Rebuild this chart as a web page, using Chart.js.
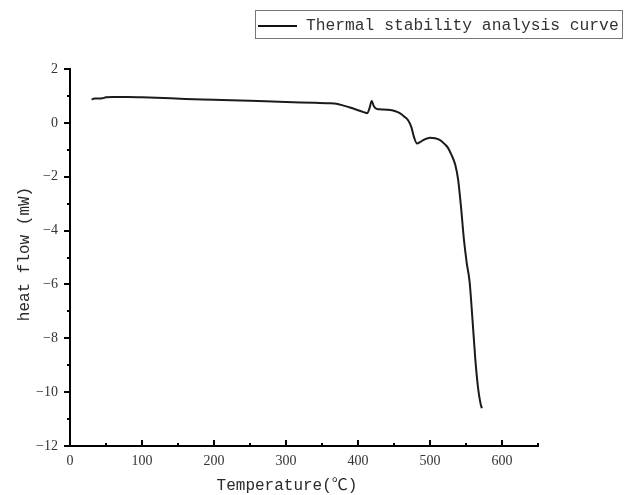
<!DOCTYPE html>
<html>
<head>
<meta charset="utf-8">
<script src="https://cdn.jsdelivr.net/npm/chart.js@4.4.0/dist/chart.umd.min.js"></script>
<style>
  html, body { margin: 0; padding: 0; background: #fff; }
  #wrap { width: 633px; height: 495px; }
</style>
</head>
<body>
<div id="wrap"><canvas id="chart" width="633" height="495"></canvas></div>
<script>
// Data
const temperature = [30, 34, 40, 45, 50, 60, 80, 100, 130, 160, 200, 250, 300, 340, 360, 370, 380, 390, 400, 408, 413, 416, 419, 422, 426, 432, 440, 447, 453, 458, 464, 470, 474, 478, 482, 486, 492, 500, 507, 514, 520, 525, 530, 535, 539, 543, 547, 551, 555, 559, 563, 567, 570, 572];
const heatFlow = [0.87, 0.90, 0.90, 0.91, 0.95, 0.96, 0.96, 0.95, 0.92, 0.89, 0.86, 0.82, 0.77, 0.75, 0.73, 0.71, 0.64, 0.56, 0.47, 0.40, 0.36, 0.55, 0.81, 0.62, 0.52, 0.50, 0.49, 0.47, 0.42, 0.36, 0.24, 0.08, -0.15, -0.55, -0.77, -0.72, -0.62, -0.55, -0.57, -0.64, -0.78, -0.93, -1.2, -1.55, -2.1, -3.1, -4.3, -5.2, -5.9, -7.3, -8.8, -9.9, -10.4, -10.6];

const seriesLabel = "Thermal stability analysis curve";
const xTitle = "Temperature(℃)";
const yTitle = "heat flow (mW)";

// Axis ticks
const xMajorTicks = [0, 100, 200, 300, 400, 500, 600];
const xMinorTicks = [50, 150, 250, 350, 450, 550, 650];
const yMajorTicks = [-12, -10, -8, -6, -4, -2, 0, 2];
const yMinorTicks = [-11, -9, -7, -5, -3, -1, 1];

const monoFont = "'Liberation Mono', 'Noto Sans CJK SC', monospace";
const serifFont = "'Liberation Serif', serif";

// Ticks (x inward, y outward), axis titles and the boxed legend
const decorPlugin = {
  id: "decor",
  afterDraw(chart) {
    const ctx = chart.ctx;
    const xs = chart.scales.x;
    const ys = chart.scales.y;
    const area = chart.chartArea;
    ctx.save();
    ctx.strokeStyle = "#000";
    ctx.lineWidth = 2;
    ctx.beginPath();
    xMajorTicks.concat(xMinorTicks).forEach((v) => {
      const px = Math.round(xs.getPixelForValue(v));
      const len = xMajorTicks.includes(v) ? 6 : 3;
      ctx.moveTo(px, area.bottom);
      ctx.lineTo(px, area.bottom - len);
    });
    yMajorTicks.concat(yMinorTicks).forEach((v) => {
      const py = Math.round(ys.getPixelForValue(v));
      const len = yMajorTicks.includes(v) ? 6 : 3;
      ctx.moveTo(area.left, py);
      ctx.lineTo(area.left - len, py);
    });
    ctx.stroke();

    // Axis titles
    ctx.fillStyle = "#2a2a2a";
    ctx.font = "16px " + monoFont;
    ctx.textAlign = "center";
    ctx.textBaseline = "middle";
    ctx.fillText(xTitle, 287, 486);
    ctx.save();
    ctx.translate(25, 254);
    ctx.rotate(-Math.PI / 2);
    ctx.fillText(yTitle, 0, 0);
    ctx.restore();

    // Legend
    ctx.strokeStyle = "#777";
    ctx.lineWidth = 1;
    ctx.strokeRect(255.5, 10.5, 367, 28);
    ctx.strokeStyle = "#111";
    ctx.lineWidth = 2;
    ctx.beginPath();
    ctx.moveTo(258, 26);
    ctx.lineTo(297, 26);
    ctx.stroke();
    ctx.textAlign = "left";
    ctx.fillStyle = "#333";
    ctx.font = "16.3px " + monoFont;
    ctx.fillText(chart.data.datasets[0].label, 306, 26);
    ctx.restore();
  },
};

const chart = new Chart(document.getElementById("chart"), {
  type: "line",
  data: {
    datasets: [
      {
        label: seriesLabel,
        data: temperature.map((t, i) => ({ x: t, y: heatFlow[i] })),
        borderColor: "#1b1b1b",
        borderWidth: 2,
        pointRadius: 0,
        fill: false,
        cubicInterpolationMode: "monotone",
      },
    ],
  },
  options: {
    responsive: false,
    animation: false,
    devicePixelRatio: 1,
    layout: { padding: { left: 0, right: 95, top: 69, bottom: 0 } },
    plugins: {
      legend: { display: false },
      tooltip: { enabled: false },
    },
    scales: {
      x: {
        type: "linear",
        min: 0,
        max: 650,
        afterFit(scale) { scale.height = 49; },
        afterBuildTicks(scale) { scale.ticks = xMajorTicks.map((v) => ({ value: v })); },
        ticks: {
          padding: 7,
          color: "#333",
          font: { family: serifFont, size: 14 },
          maxRotation: 0,
          autoSkip: false,
        },
        grid: { drawOnChartArea: false, drawTicks: false },
        border: { display: true, color: "#000", width: 2 },
      },
      y: {
        type: "linear",
        min: -12,
        max: 2,
        afterFit(scale) { scale.width = 70; },
        afterBuildTicks(scale) { scale.ticks = yMajorTicks.map((v) => ({ value: v })); },
        ticks: {
          padding: 12,
          color: "#333",
          font: { family: serifFont, size: 14 },
          callback: (v) => (v < 0 ? "\u2212" + Math.abs(v) : String(v)),
        },
        grid: { drawOnChartArea: false, drawTicks: false },
        border: { display: true, color: "#000", width: 2 },
      },
    },
  },
  plugins: [decorPlugin],
});
</script>
</body>
</html>
